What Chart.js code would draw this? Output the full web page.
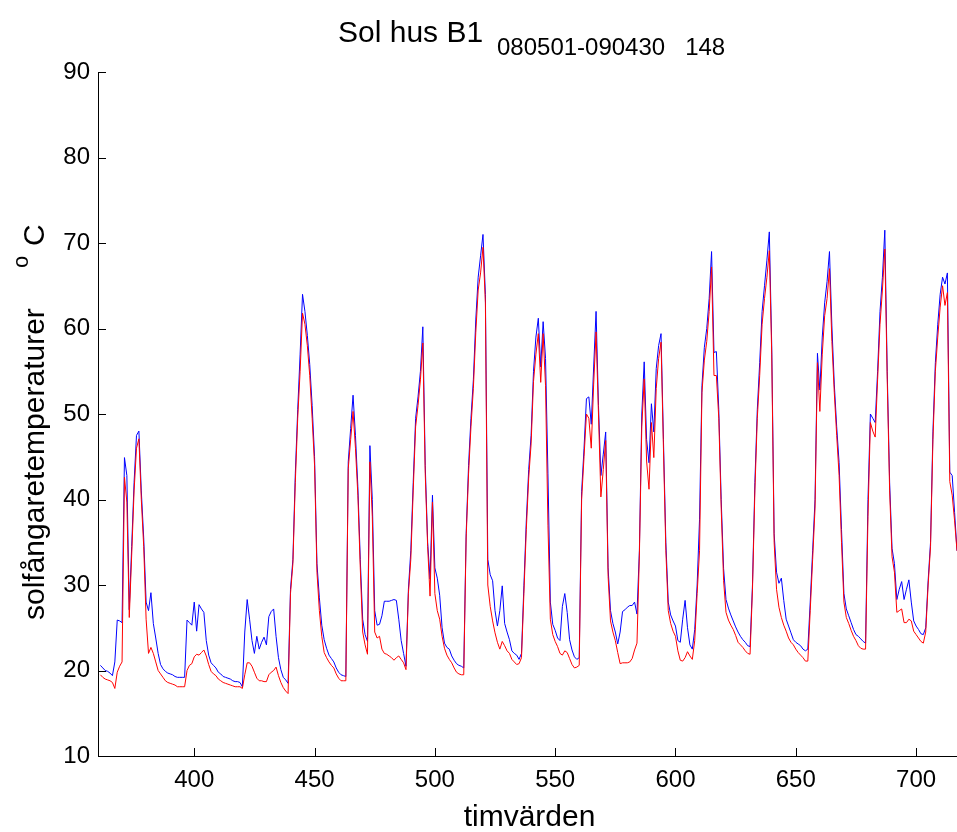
<!DOCTYPE html>
<html><head><meta charset="utf-8">
<script src="https://cdn.jsdelivr.net/npm/chart.js@4/dist/chart.umd.min.js"></script>
<style>html,body{margin:0;padding:0;background:#fff;overflow:hidden}#wrap{position:relative;width:957px;height:832px}</style>
</head><body><div id="wrap"><canvas id="c" width="957" height="832"></canvas></div>
<script>
const startHour = 361;
const blueValues = [
20.6,20.3,20.0,19.9,19.7,19.4,21.0,25.9,25.8,25.6,
44.9,42.8,27.1,34.5,42.0,47.5,48.0,41.0,35.5,28.0,
27.0,29.1,25.5,23.8,22.0,20.7,20.2,19.9,19.7,19.6,
19.5,19.3,19.2,19.2,19.2,19.2,25.9,25.6,25.3,28.0,
24.6,27.7,27.2,26.8,23.5,21.8,20.9,20.6,20.3,19.8,
19.6,19.3,19.2,19.1,19.0,18.8,18.7,18.7,18.6,18.1,
24.5,28.3,26.0,23.5,22.0,24.0,22.5,23.3,23.9,23.0,
26.3,26.9,27.2,24.0,21.5,20.1,19.2,18.9,18.5,29.5,
33.0,43.0,50.5,57.0,64.0,62.0,59.2,55.8,51.0,45.0,
32.5,28.5,25.3,23.6,22.6,21.8,21.4,21.0,20.3,19.8,
19.5,19.4,19.3,44.4,48.3,52.2,47.5,41.5,33.0,26.0,
24.2,23.4,46.3,40.0,27.0,25.3,25.4,26.4,28.1,28.1,
28.1,28.2,28.3,28.2,26.0,23.5,22.0,20.5,29.5,34.0,
42.0,49.5,52.0,55.0,60.2,44.0,35.0,30.7,40.5,32.0,
30.8,28.8,25.0,23.2,22.7,22.5,21.7,21.2,20.8,20.6,
20.5,20.3,36.0,44.0,49.5,54.0,61.0,66.0,68.5,71.0,
64.0,33.0,31.2,30.5,27.0,25.2,27.0,29.9,25.5,24.5,
23.6,22.3,22.0,21.8,21.3,22.0,29.9,37.5,43.5,47.5,
55.0,59.0,61.2,55.5,60.8,56.5,43.0,28.0,25.4,24.7,
23.8,23.5,27.5,29.0,26.8,23.6,22.4,21.6,21.3,21.5,
40.9,46.0,51.8,52.0,48.8,55.5,62.0,51.0,42.8,45.3,
47.9,32.0,27.0,25.5,24.5,23.1,24.5,26.9,27.1,27.4,
27.6,27.6,28.0,26.6,34.0,50.0,56.1,47.0,44.3,51.2,
47.9,55.3,58.0,59.4,47.0,35.0,28.0,26.5,25.8,25.2,
23.5,23.3,26.0,28.2,25.0,23.0,22.5,24.8,30.0,37.7,
53.3,57.8,60.0,63.5,69.0,57.2,57.3,50.5,40.0,31.9,
28.3,27.3,26.5,25.8,25.1,24.5,24.0,23.6,23.3,22.9,
22.8,30.0,42.0,50.5,56.0,62.0,65.0,68.0,71.3,58.0,
36.0,31.5,30.2,30.8,28.2,26.0,25.2,24.4,23.6,23.3,
23.1,22.9,22.5,22.3,22.5,28.0,34.0,40.0,57.1,52.8,
59.0,63.0,65.5,69.0,60.3,53.5,48.5,44.3,36.5,29.0,
27.2,26.4,25.6,24.8,24.2,24.0,23.7,23.4,23.2,40.0,
50.0,49.5,49.0,55.0,62.0,66.0,71.5,55.0,42.0,34.3,
32.5,28.3,29.5,30.4,28.3,29.5,30.6,28.0,25.8,25.2,
24.8,24.3,24.2,25.0,30.5,35.0,48.0,56.0,60.5,64.0,
66.0,65.2,66.5,43.2,42.8,38.5,34.0
];
const redValues = [
19.5,19.2,19.0,18.9,18.8,18.6,17.9,19.8,20.5,21.0,
42.6,39.7,26.2,33.5,41.0,46.0,47.1,40.0,34.5,26.0,
22.0,22.7,22.0,21.0,20.0,19.6,19.2,18.8,18.6,18.5,
18.4,18.3,18.1,18.1,18.1,18.1,20.0,20.6,20.8,21.6,
21.9,21.8,22.1,22.4,21.7,20.7,19.9,19.6,19.4,19.0,
18.8,18.6,18.5,18.4,18.3,18.2,18.1,18.1,18.1,17.9,
19.5,20.9,20.9,20.5,19.8,19.1,18.8,18.8,18.7,18.7,
19.5,19.8,20.0,20.4,19.4,18.6,18.0,17.6,17.3,29.0,
32.5,42.0,49.5,55.0,61.8,60.5,58.0,54.5,49.5,44.0,
31.5,27.0,24.0,22.1,21.5,21.0,20.6,20.3,19.6,19.1,
18.8,18.8,18.8,43.6,47.0,50.3,46.0,40.5,32.0,24.5,
23.0,21.9,44.4,38.0,24.5,23.8,24.0,22.5,22.0,21.9,
21.7,21.5,21.2,21.5,21.7,21.3,20.9,20.1,29.0,33.0,
41.0,48.5,51.0,54.0,58.3,43.0,34.5,28.7,39.7,29.0,
27.0,26.0,24.0,22.6,21.8,21.3,20.9,20.3,19.8,19.6,
19.5,19.5,35.5,43.0,48.5,53.0,59.5,64.5,66.5,69.5,
63.0,30.0,27.5,25.8,24.4,23.3,22.5,23.4,22.9,22.3,
22.0,21.3,21.0,20.7,20.8,21.5,29.0,36.5,42.5,46.5,
53.8,57.0,59.4,53.7,59.4,53.3,37.0,26.0,24.2,23.4,
22.8,22.0,21.8,22.3,22.1,21.4,20.7,20.3,20.4,20.6,
40.0,45.0,50.0,49.5,46.0,53.5,59.6,50.0,40.3,43.5,
46.9,31.0,25.8,24.5,23.5,22.1,20.8,20.9,20.9,20.9,
21.0,21.4,22.4,23.2,33.5,48.5,54.1,44.5,41.2,49.0,
44.9,53.0,56.5,58.4,46.0,34.0,27.0,25.5,24.6,24.0,
22.3,21.2,21.1,21.5,22.2,21.7,21.3,23.5,29.0,34.0,
52.5,56.3,58.5,62.0,67.2,54.5,54.5,49.5,39.0,30.5,
26.8,25.9,25.3,24.8,24.1,23.3,23.0,22.7,22.3,22.0,
21.9,29.5,41.0,49.5,54.5,60.5,63.5,66.0,69.1,57.0,
35.0,29.5,27.4,26.2,25.3,24.6,23.8,23.3,23.0,22.5,
22.1,21.8,21.5,21.1,21.1,27.0,33.0,39.0,56.0,50.3,
57.0,61.5,63.5,67.0,58.5,52.5,47.5,42.8,35.0,28.0,
26.2,25.5,24.7,24.0,23.5,22.9,22.6,22.5,22.5,38.0,
49.0,48.0,47.3,54.0,60.5,64.5,69.3,54.0,41.0,33.3,
31.5,26.8,27.0,27.2,25.6,25.6,26.0,25.8,24.6,24.2,
23.8,23.4,23.2,24.5,30.0,34.5,47.0,55.0,59.0,62.5,
65.0,62.7,64.2,42.1,40.5,37.5,34.0
];
const xTickValues = [400,450,500,550,600,650,700];
const yTickValues = [10,20,30,40,50,60,70,80,90];
const titleMain = 'Sol hus B1';
const titleSub = '080501-090430   148';
const xLabel = 'timvärden';
const yLabelMain = 'solfångaretemperaturer';
const yLabelSup = 'o';
const yLabelUnit = 'C';

const FONT = "'Liberation Sans', Arial, Helvetica, sans-serif";
const hours = blueValues.map((_, i) => startHour + i);
const toPts = vals => vals.map((v, i) => ({x: hours[i], y: v}));

const decor = {
  id: 'decor',
  afterDraw(chart) {
    const ctx = chart.ctx, a = chart.chartArea;
    const xs = chart.scales.x, ys = chart.scales.y;
    ctx.save();
    ctx.strokeStyle = '#000'; ctx.lineWidth = 1;
    ctx.beginPath();
    xTickValues.forEach(v => { const p = Math.round(xs.getPixelForValue(v)) + 0.5; ctx.moveTo(p, a.bottom); ctx.lineTo(p, a.bottom - 8); });
    yTickValues.forEach(v => { const p = Math.round(ys.getPixelForValue(v)) + 0.5; ctx.moveTo(a.left, p); ctx.lineTo(a.left + 8, p); });
    ctx.stroke();
    ctx.fillStyle = '#000';
    ctx.textBaseline = 'alphabetic';
    ctx.textAlign = 'left';
    ctx.font = '30px ' + FONT;
    ctx.fillText(titleMain, 338, 42);
    ctx.font = '24px ' + FONT;
    ctx.fillText(titleSub, 497, 55);
    ctx.textAlign = 'center';
    ctx.font = '30px ' + FONT;
    ctx.fillText(xLabel, (a.left + a.right) / 2 + 2, 826);
    ctx.translate(44, 620);
    ctx.rotate(-Math.PI / 2);
    ctx.textAlign = 'left';
    ctx.font = '30px ' + FONT;
    ctx.fillText(yLabelMain, 0, 0);
    ctx.font = '22px ' + FONT;
    ctx.fillText(yLabelSup, 352, -16);
    ctx.font = '30px ' + FONT;
    ctx.fillText(yLabelUnit, 374, 0);
    ctx.restore();
  }
};

new Chart(document.getElementById('c'), {
  type: 'line',
  data: {
    datasets: [
      {label: 'blue', data: toPts(blueValues), borderColor: '#0000ff', borderWidth: 1, pointRadius: 0, tension: 0, order: 1},
      {label: 'red', data: toPts(redValues), borderColor: '#ff0000', borderWidth: 1, pointRadius: 0, tension: 0, order: 0}
    ]
  },
  options: {
    responsive: false, animation: false, devicePixelRatio: 1,
    layout: {padding: {top: 72, left: 0, right: 0, bottom: 0}},
    plugins: {legend: {display: false}, tooltip: {enabled: false}},
    scales: {
      x: {
        type: 'linear', min: 360, max: 717,
        afterBuildTicks: s => { s.ticks = xTickValues.map(v => ({value: v})); },
        afterFit: s => { s.height = 76; },
        grid: {display: false, drawTicks: false},
        border: {display: true, color: '#000', width: 1},
        ticks: {color: '#000', font: {family: FONT, size: 24}, padding: 10, maxRotation: 0, autoSkip: false}
      },
      y: {
        min: 10, max: 90,
        afterBuildTicks: s => { s.ticks = yTickValues.map(v => ({value: v})); },
        afterFit: s => { s.width = 98; },
        grid: {display: false, drawTicks: false},
        border: {display: true, color: '#000', width: 1},
        ticks: {color: '#000', font: {family: FONT, size: 24}, padding: 8}
      }
    }
  },
  plugins: [decor]
});
</script></body></html>
